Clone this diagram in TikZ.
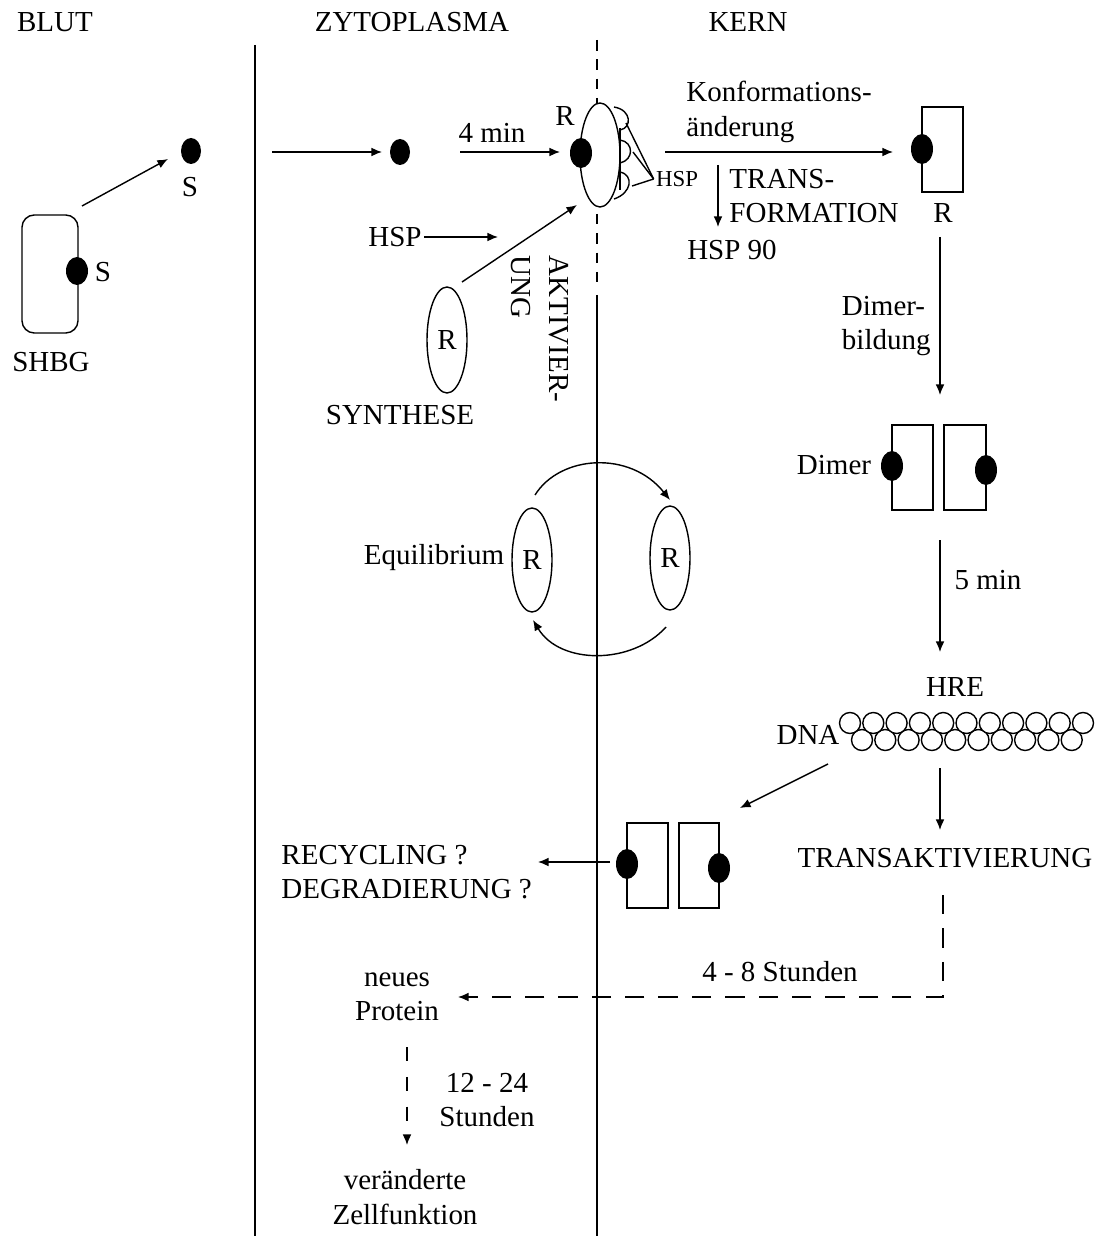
\documentclass[tikz,border=0pt]{standalone}
\usepackage{fontspec}
\setmainfont{Liberation Serif}
\usetikzlibrary{arrows.meta}

\tikzset{
	lbl/.style={font=\fontsize{16.5}{19.5}\selectfont, inner sep=1pt},
	lblsmall/.style={font=\fontsize{13}{15}\selectfont, inner sep=1pt},
	ligand/.style={fill=black},
	slow/.style={dash pattern=on 11pt off 8pt},
}

\begin{document}
\begin{tikzpicture}[x=0.02cm, y=-0.02cm, line width=0.8pt, >={Latex[length=6pt,width=5pt]}]
	\useasboundingbox (0,0) rectangle (1105,1236);
	% compartments
	\node[lbl] (blut) at (55,22) {BLUT};
	\node[lbl] (zyto) at (412,22) {ZYTOPLASMA};
	\node[lbl] (kern) at (748,22) {KERN};
	\draw (255,45) -- (255,1236);
	\draw[dash pattern=on 6pt off 5pt] (597,40) -- (597,290);
	\draw (597,295) -- (597,1236);
	% blood: SHBG and free steroid
	\draw[rounded corners=7pt] (22,215) rectangle (78,333);
	\fill[ligand] (77,271) ellipse (11 and 14);
	\node[lbl] (sbound) at (103,272) {S};
	\node[lbl] (shbg) at (51,362) {SHBG};
	\fill[ligand] (191,151) ellipse (10 and 13);
	\node[lbl] (sfree) at (190,187) {S};
	\coordinate (shbgout) at (82,206);
	\coordinate (sfreein) at (168,159);
	\draw[->] (shbgout) -- (sfreein);
	% cytoplasm: entry and binding
	\coordinate (entry) at (272,152);
	\coordinate (scyto) at (382,152);
	\draw[->] (entry) -- (scyto);
	\fill[ligand] (400,152) ellipse (10 and 13);
	\coordinate (bindout) at (460,152);
	\coordinate (bindin) at (560,152);
	\draw[->] (bindout) -- (bindin);
	\node[lbl] (fourmin) at (492,133) {4 min};
	% receptor with HSP
	\draw[fill=white] (600,155) ellipse (20 and 52);
	\draw (614,107) .. controls (632,110) and (632,128) .. (620,130);
	\draw (620,140) .. controls (634,142) and (634,160) .. (620,163);
	\draw (620,172) .. controls (634,175) and (632,193) .. (614,199);
	\draw (620,128) -- (620,190);
	\fill[ligand] (581,153) ellipse (11 and 15);
	\node[lbl] (rcomplex) at (565,116) {R};
	\node[lblsmall] (hspsmall) at (677,179) {HSP};
	\draw (626,123) -- (hspsmall.west);
	\draw (633,152) -- (hspsmall.west);
	\draw (632,186) -- (hspsmall.west);
	% synthesis and activation
	\node[lbl] (hspin) at (395,237) {HSP};
	\coordinate (hspend) at (498,237);
	\draw[->] (hspin.east) -- (hspend);
	\draw (447,340) ellipse (20 and 53);
	\node[lbl] (rsyn) at (447,340) {R};
	\node[lbl] (synthese) at (400,415) {SYNTHESE};
	\coordinate (synout) at (462,282);
	\coordinate (synin) at (577,205);
	\draw[->] (synout) -- (synin);
	\node[lbl, rotate=-90, align=left, font=\fontsize{16.5}{21.5}\selectfont] (aktiv) at (540,329) {AKTIVIER-\\UNG};
	% equilibrium
	\draw (532,560) ellipse (20 and 52);
	\node[lbl] (rleft) at (532,560) {R};
	\draw (670,558) ellipse (20 and 52);
	\node[lbl] (rright) at (670,558) {R};
	\node[lbl] (equil) at (434,558) {Equilibrium};
	\draw[->] (535,495) .. controls (560,455) and (630,450) .. (670,500);
	\draw[->] (666,627) .. controls (632,665) and (560,665) .. (533,620);
	% nucleus: transformation
	\coordinate (konfout) at (665,152);
	\coordinate (konfin) at (893,152);
	\draw[->] (konfout) -- (konfin);
	\node[lbl, align=left, anchor=west] (konf) at (684,112) {Konformations-\\änderung};
	\coordinate (hspoff) at (718,165);
	\coordinate (hspgone) at (718,227);
	\draw[->] (hspoff) -- (hspgone);
	\node[lbl, align=left, anchor=west] (trans) at (727,196) {TRANS-\\FORMATION};
	\node[lbl] (hsp90) at (732,250) {HSP 90};
	\draw (922,107) rectangle (963,192);
	\fill[ligand] (922,149) ellipse (11 and 15);
	\node[lbl] (rkern) at (943,213) {R};
	% dimerisation
	\coordinate (dimout) at (940,237);
	\coordinate (dimin) at (940,395);
	\draw[->] (dimout) -- (dimin);
	\node[lbl, align=left, anchor=east] (dimerbild) at (933,326) {Dimer-\\bildung};
	\draw (892,425) rectangle (933,510);
	\draw (944,425) rectangle (986,510);
	\fill[ligand] (892,466) ellipse (11 and 15);
	\fill[ligand] (986,470) ellipse (11 and 15);
	\node[lbl] (dimer) at (834,465) {Dimer};
	\coordinate (hreout) at (940,540);
	\coordinate (hrein) at (940,652);
	\draw[->] (hreout) -- (hrein);
	\node[lbl] (fivemin) at (988,580) {5 min};
	% DNA
	\node[lbl] (hre) at (955,687) {HRE};
	\node[lbl] (dna) at (808,735) {DNA};
	\foreach \k in {0,...,9}
		\draw[fill=white] (862+23.3*\k,740) circle (10.5);
	\foreach \k in {0,...,10}
		\draw[fill=white] (850+23.3*\k,723) circle (10.5);
	\coordinate (relout) at (828,764);
	\coordinate (relin) at (740,808);
	\draw[->] (relout) -- (relin);
	\coordinate (taout) at (940,768);
	\coordinate (tain) at (940,830);
	\draw[->] (taout) -- (tain);
	\node[lbl] (transakt) at (945,858) {TRANSAKTIVIERUNG};
	% released dimer
	\draw (627,823) rectangle (668,908);
	\draw (679,823) rectangle (719,908);
	\fill[ligand] (627,864) ellipse (11 and 15);
	\fill[ligand] (719,868) ellipse (11 and 15);
	\coordinate (recout) at (610,862);
	\coordinate (recin) at (538,862);
	\draw[->] (recout) -- (recin);
	\node[lbl, align=left, anchor=west] (recyc) at (279,872) {RECYCLING ?\\DEGRADIERUNG ?};
	% late effects
	\node[lbl] (stunden48) at (780,972) {4 - 8 Stunden};
	\node[lbl, align=center] (protein) at (397,997) {neues\\Protein};
	\coordinate (taend) at (943,895);
	\coordinate (bend) at (943,997);
	\coordinate (protin) at (458,997);
	\draw[->, slow] (taend) -- (bend) -- (protin);
	\coordinate (protout) at (407,1047);
	\coordinate (zellin) at (407,1145);
	\draw[->, dash pattern=on 8pt off 9pt] (protout) -- (zellin);
	\node[lbl, align=center] (stunden1224) at (487,1100) {12 - 24\\Stunden};
	\node[lbl, align=center] (zell) at (405,1197) {veränderte\\Zellfunktion};
\end{tikzpicture}
\end{document}
